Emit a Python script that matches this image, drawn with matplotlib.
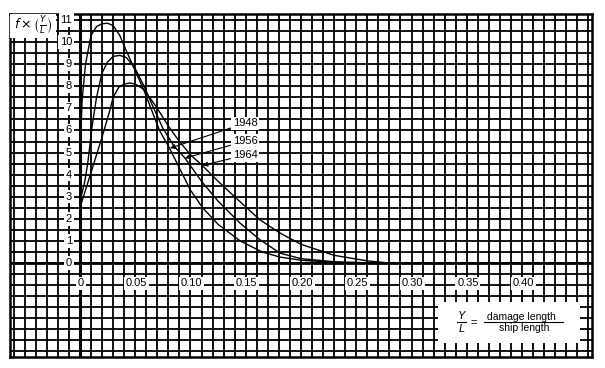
import numpy as np
import matplotlib
matplotlib.use('Agg')
import matplotlib.pyplot as plt
from matplotlib.patches import Rectangle

plt.rcParams['font.family'] = ['Liberation Sans', 'DejaVu Sans']

# curves: damage length ratio vs f(Y/L)
x_1948 = [0, 0.002, 0.005, 0.01, 0.015, 0.02, 0.025, 0.03, 0.036, 0.042, 0.05, 0.058,
          0.065, 0.072, 0.081, 0.09, 0.1, 0.111, 0.125, 0.145, 0.165, 0.181, 0.2, 0.23,
          0.26, 0.46]
y_1948 = [5.0, 7.4, 9.0, 10.3, 10.7, 10.83, 10.85, 10.75, 10.3, 9.6, 8.7, 7.8,
          6.9, 6.0, 5.2, 4.3, 3.3, 2.5, 1.75, 1.0, 0.5, 0.27, 0.13, 0.03,
          0.0, 0.0]
x_1956 = [0, 0.004, 0.007, 0.011, 0.015, 0.02, 0.025, 0.03, 0.036, 0.042, 0.05, 0.058,
          0.065, 0.075, 0.085, 0.095, 0.11, 0.125, 0.145, 0.163, 0.181, 0.2, 0.23,
          0.27, 0.46]
y_1956 = [2.8, 3.6, 4.5, 6.2, 7.5, 8.6, 9.1, 9.35, 9.4, 9.3, 8.8, 8.0,
          7.2, 6.1, 5.3, 4.75, 3.7, 2.8, 1.8, 1.05, 0.45, 0.2, 0.06,
          0.0, 0.0]
x_1964 = [0, 0.01, 0.02, 0.027, 0.03, 0.035, 0.04, 0.045, 0.05, 0.058, 0.07, 0.08,
          0.09, 0.1, 0.111, 0.125, 0.14, 0.163, 0.181, 0.2, 0.23, 0.26, 0.28, 0.46]
y_1964 = [2.5, 4.1, 5.7, 6.9, 7.5, 7.95, 8.1, 8.15, 8.1, 7.85, 7.0, 6.2,
          5.5, 4.9, 4.4, 3.7, 3.0, 1.95, 1.36, 0.85, 0.35, 0.1, 0.0, 0.0]

series_names = ['1948', '1956', '1964']
# where each arrow touches its curve
arrow_x = [0.0815, 0.095, 0.111]
arrow_y = [5.2, 4.75, 4.42]

xtick_vals = [0, 0.05, 0.10, 0.15, 0.20, 0.25, 0.30, 0.35, 0.40]
xtick_labels = ['0', '0.05', '0.10', '0.15', '0.20', '0.25', '0.30', '0.35', '0.40']
ytick_vals = list(range(0, 12))
ytick_labels = [str(v) for v in ytick_vals]

fig = plt.figure(figsize=(6.05, 3.68), dpi=100)
ax = fig.add_axes([10 / 605, 11 / 368, 582 / 605, 343 / 368])
ax.set_xlim(-0.0633, 0.4633)
ax.set_ylim(-4.25, 11.27)
ax.set_xticks([])
ax.set_yticks([])
for s in ax.spines.values():
    s.set_linewidth(1.8)

# graph paper
for gx in np.arange(-0.06, 0.461, 0.01):
    ax.axvline(gx, color='black', lw=1.3, zorder=1)
for gy in np.arange(-4.0, 11.01, 0.5):
    ax.axhline(gy, color='black', lw=1.3, zorder=1)
ax.axvline(0, color='black', lw=2.2, zorder=1)
ax.axhline(0, color='black', lw=2.0, zorder=1)

# curves
ax.plot(x_1948, y_1948, color='black', lw=1.0, zorder=3)
ax.plot(x_1956, y_1956, color='black', lw=1.0, zorder=3)
ax.plot(x_1964, y_1964, color='black', lw=1.0, zorder=3)

box = dict(facecolor='white', edgecolor='none', pad=1.2)

for v, lab in zip(xtick_vals, xtick_labels):
    ax.text(v + 0.001, -0.92, lab, ha='center', va='center', fontsize=8, bbox=box, zorder=4)
for v, lab in zip(ytick_vals, ytick_labels):
    ax.text(-0.0072, v, lab, ha='right', va='center', fontsize=8, bbox=box, zorder=4)

# series labels with arrows
label_y = [6.33, 5.52, 4.89]
for name, ax_, ay_, ly in zip(series_names, arrow_x, arrow_y, label_y):
    ax.annotate(name, xy=(ax_, ay_), xytext=(0.1385, ly), ha='left', va='center',
                fontsize=8, bbox=box, zorder=5,
                arrowprops=dict(arrowstyle='-|>', color='black', lw=0.8,
                                mutation_scale=7, shrinkA=0, shrinkB=0))

# axis title box top left
ax.add_patch(Rectangle((-0.0633, 10.2), 0.042, 1.07, facecolor='white',
                       edgecolor='none', zorder=4))
ax.text(-0.0595, 10.75, r'$f\times\left(\frac{Y}{L}\right)$', ha='left', va='center',
        fontsize=9, zorder=5)

# definition box bottom right
ax.add_patch(Rectangle((0.324, -3.62), 0.1285, 1.86, facecolor='white',
                       edgecolor='none', zorder=4))
ax.text(0.3455, -2.38, 'Y', ha='center', va='center', fontsize=8,
        style='italic', zorder=5)
ax.text(0.3455, -2.98, 'L', ha='center', va='center', fontsize=8,
        style='italic', zorder=5)
ax.plot([0.3415, 0.3495], [-2.68, -2.68], color='black', lw=0.8, zorder=5)
ax.text(0.3565, -2.7, '=', ha='center', va='center', fontsize=8, zorder=5)
ax.text(0.3995, -2.42, 'damage length', ha='center', va='center', fontsize=7.5, zorder=5)
ax.text(0.4015, -2.96, 'ship length', ha='center', va='center', fontsize=7.5, zorder=5)
ax.plot([0.3655, 0.437], [-2.68, -2.68], color='black', lw=0.8, zorder=5)

fig.savefig('out.png', dpi=100)
